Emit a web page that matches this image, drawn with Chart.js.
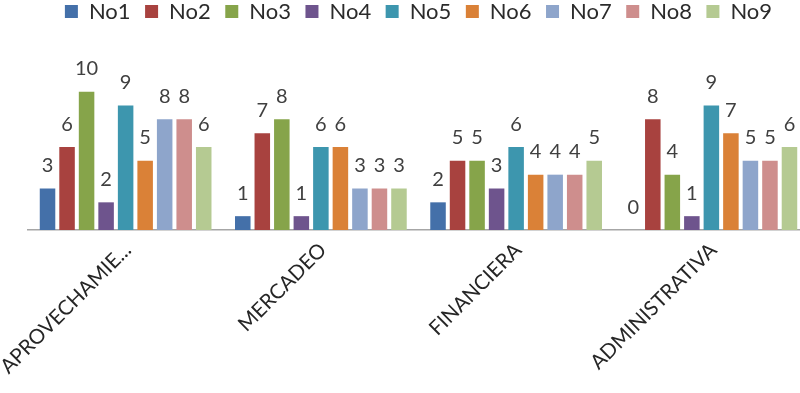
<!DOCTYPE html>
<html>
<head>
<meta charset="utf-8">
<script src="https://cdn.jsdelivr.net/npm/chart.js@4/dist/chart.umd.min.js"></script>
<style>
  html, body { margin: 0; padding: 0; background: #ffffff; overflow: hidden; }
  #wrap { width: 800px; height: 393px; overflow: hidden; }
  canvas { display: block; }
</style>
</head>
<body>
<div id="wrap"><canvas id="chart" width="832" height="393"></canvas></div>
<script>
// Areas evaluated and the score each item received
const categories = ['APROVECHAMIE...', 'MERCADEO', 'FINANCIERA', 'ADMINISTRATIVA'];
const seriesNames = ['No1', 'No2', 'No3', 'No4', 'No5', 'No6', 'No7', 'No8', 'No9'];
const no1 = [3, 1, 2, 0];
const no2 = [6, 7, 5, 8];
const no3 = [10, 8, 5, 4];
const no4 = [2, 1, 3, 1];
const no5 = [9, 6, 6, 9];
const no6 = [5, 6, 4, 7];
const no7 = [8, 3, 4, 5];
const no8 = [8, 3, 4, 5];
const no9 = [6, 3, 5, 6];
const seriesValues = [no1, no2, no3, no4, no5, no6, no7, no8, no9];
const seriesColors = ['#4470A9', '#A8423F', '#86A44A', '#6E548D', '#3D96AE',
                      '#DA8137', '#8EA5CB', '#CE8E8D', '#B5CA92'];

const FONT = 'Lato, "Open Sans", sans-serif';
const PAD_TOP = -14;      // pulls the legend up toward the top edge
const PLOT_TOP = 64;      // top edge of the plotting area
const PLOT_BOTTOM = 230;  // baseline of the bars

// Writes each bar's value just above it
const valueLabels = {
  id: 'valueLabels',
  afterDatasetsDraw(chart) {
    const ctx = chart.ctx;
    ctx.save();
    ctx.font = '20px ' + FONT;
    ctx.fillStyle = '#404040';
    ctx.textAlign = 'center';
    ctx.textBaseline = 'alphabetic';
    chart.data.datasets.forEach((ds, di) => {
      const meta = chart.getDatasetMeta(di);
      meta.data.forEach((bar, i) => {
        ctx.fillText(String(ds.data[i]), bar.x, bar.y - 16.5);
      });
    });
    ctx.restore();
  }
};

new Chart(document.getElementById('chart'), {
  type: 'bar',
  data: {
    labels: categories,
    datasets: seriesNames.map((name, k) => ({
      label: name,
      data: seriesValues[k],
      backgroundColor: seriesColors[k],
      borderWidth: 0,
      barPercentage: 0.795,
      categoryPercentage: 0.9
    }))
  },
  options: {
    responsive: false,
    animation: false,
    events: [],
    layout: { padding: { left: 28, right: 23, top: PAD_TOP, bottom: 0 } },
    plugins: {
      legend: {
        position: 'top',
        labels: {
          font: { family: FONT, size: 22 },
          color: '#2b2b2b',
          boxWidth: 13,
          boxHeight: 13,
          padding: 14.5
        }
      },
      tooltip: { enabled: false }
    },
    scales: {
      x: {
        position: 'bottom',
        grid: { display: false, drawTicks: false },
        border: { display: true, color: '#A6A6A6', width: 1.5 },
        ticks: {
          autoSkip: false,
          minRotation: 45,
          maxRotation: 45,
          padding: 8,
          labelOffset: 2,
          color: '#262626',
          font: { family: FONT, size: 20.5 }
        },
        afterFit(scale) {
          scale.height = scale.chart.height - PLOT_BOTTOM;
          scale.paddingLeft = 0;
          scale.paddingRight = 0;
        }
      },
      gap: {
        type: 'category',
        labels: categories,
        position: 'top',
        grid: { display: false, drawTicks: false },
        border: { display: false },
        ticks: { display: false },
        afterFit(scale) {
          const lg = scale.chart.legend;
          const used = lg ? lg.height : 0;
          scale.height = Math.max(0, PLOT_TOP - PAD_TOP - used);
          scale.paddingLeft = 0;
          scale.paddingRight = 0;
        }
      },
      y: {
        display: false,
        min: 0,
        max: 12
      }
    }
  },
  plugins: [valueLabels]
});
</script>
</body>
</html>
